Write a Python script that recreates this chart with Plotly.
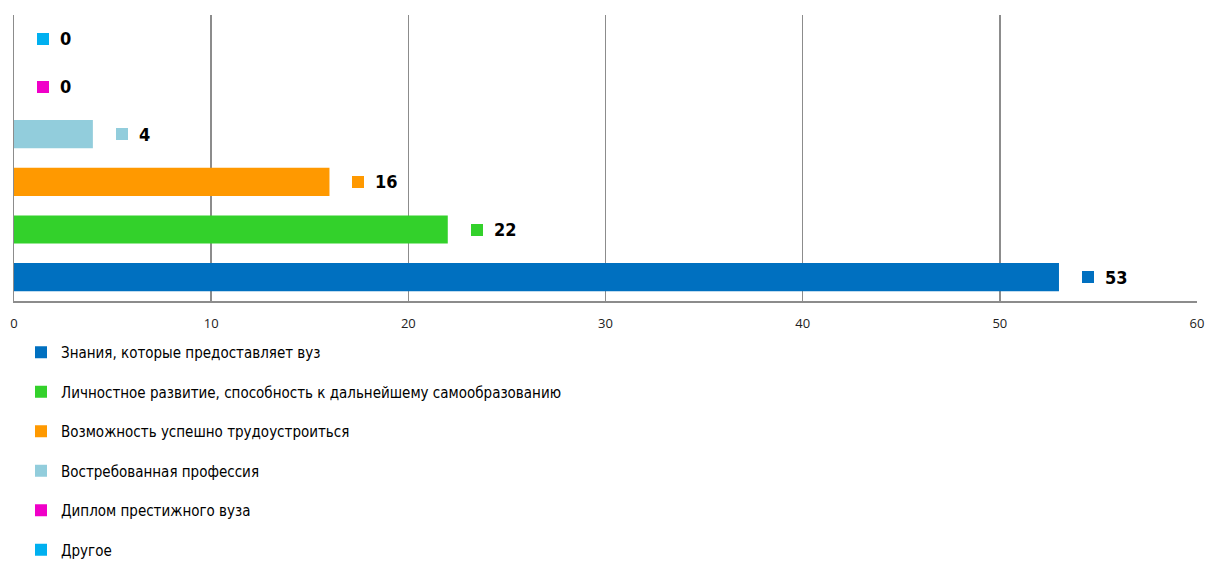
import plotly.graph_objects as go

categories = [
    "Знания, которые предоставляет вуз",
    "Личностное развитие, способность к дальнейшему самообразованию",
    "Возможность успешно трудоустроиться",
    "Востребованная профессия",
    "Диплом престижного вуза",
    "Другое",
]
values = [53, 22, 16, 4, 0, 0]
colors = ["#0070C0", "#33D12B", "#FF9900", "#92CDDC", "#F000C8", "#00B0F0"]
x_ticks = [0, 10, 20, 30, 40, 50, 60]

NARROW = "DejaVu Sans Condensed, Liberation Sans Narrow, sans-serif"

W, H = 1206, 565

fig = go.Figure()
for cat, val, col in zip(categories, values, colors):
    fig.add_trace(go.Bar(
        x=[val], y=[cat], orientation="h", name=cat,
        marker=dict(color=col, line=dict(width=0)),
        width=0.59, legendgroup=cat,
    ))

annotations = []
for cat, val, col in zip(categories, values, colors):
    # legend-key square of the data label
    annotations.append(dict(
        x=val, y=cat, xref="x", yref="y", xanchor="left", yanchor="middle",
        xshift=23, showarrow=False, text=" ",
        font=dict(size=4), width=12, height=12,
        bgcolor=col, borderpad=0, borderwidth=0,
    ))
    # value
    annotations.append(dict(
        x=val, y=cat, xref="x", yref="y", xanchor="left", yanchor="middle",
        xshift=44, yshift=0, showarrow=False, text=f"<b>{val}</b>",
        font=dict(family=NARROW, size=18, color="#000000"),
    ))

fig.update_layout(
    width=W, height=H,
    margin=dict(l=14, r=9, t=15, b=264, autoexpand=False),
    paper_bgcolor="white", plot_bgcolor="white",
    barmode="overlay",
    showlegend=True,
    legend=dict(
        xref="container", yref="container",
        x=21 / W, y=1 - 336 / H, xanchor="left", yanchor="top",
        traceorder="grouped", tracegroupgap=17,
        font=dict(family=NARROW, size=15, color="#000000"),
        bgcolor="rgba(0,0,0,0)", itemclick=False,
    ),
    annotations=annotations,
    xaxis=dict(
        range=[0, 60], tickvals=x_ticks, ticktext=[str(t) for t in x_ticks],
        showgrid=True, gridcolor="#8C8C8C", gridwidth=1.5,
        showline=True, linecolor="#8C8C8C", linewidth=1.5,
        zeroline=False, ticks="", ticklen=0, ticklabelstandoff=10,
        ticklabeloverflow="allow",
        tickfont=dict(family="Open Sans, sans-serif", size=13, color="#222222"),
        fixedrange=True,
    ),
    yaxis=dict(
        categoryorder="array", categoryarray=categories,
        showticklabels=False, showgrid=False, zeroline=False,
        showline=True, linecolor="#8C8C8C", linewidth=1.5, fixedrange=True,
    ),
)

fig.write_html(
    "out.html",
    config={"displayModeBar": False, "staticPlot": True},
    post_script="document.body.style.margin='0';document.body.style.overflow='hidden';",
)
